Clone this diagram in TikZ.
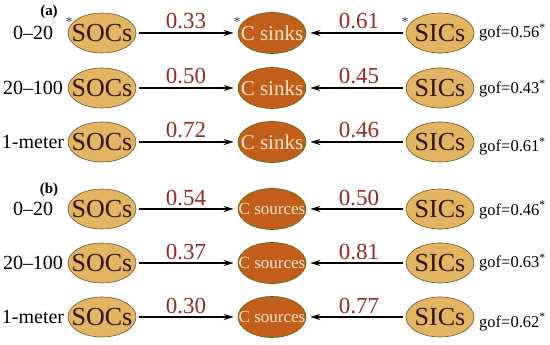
\documentclass[tikz,border=0pt]{standalone}
\usepackage{fontspec}
\setmainfont{Liberation Serif}
\usetikzlibrary{positioning,arrows.meta,shapes.geometric}
\definecolor{poolfill}{RGB}{226,181,98}
\definecolor{pooledge}{RGB}{112,82,36}
\definecolor{pooltext}{RGB}{48,20,10}
\definecolor{sinkfill}{RGB}{192,94,26}
\definecolor{sinkedge}{RGB}{96,96,24}
\definecolor{sinktext}{RGB}{252,230,204}
\definecolor{coefred}{RGB}{148,44,34}
% text of zero width, so that the ellipse keeps its minimum size
\newcommand{\ztext}[1]{\makebox[0pt]{#1}}
\tikzset{
  pool/.style={ellipse, draw=pooledge, fill=poolfill, text=pooltext, line width=0.6pt,
               minimum width=68pt, minimum height=40pt, inner sep=0pt,
               font=\fontsize{26}{26}\selectfont},
  cnode/.style={ellipse, draw=sinkedge, fill=sinkfill, text=sinktext, line width=0.6pt,
                minimum width=68pt, minimum height=41pt, inner sep=0pt},
  flow/.style={-{Stealth[length=10pt,width=6pt]}, line width=1.5pt,
               shorten <=3pt, shorten >=4pt},
  coef/.style={text=coefred, font=\fontsize{23}{23}\selectfont, anchor=base, inner sep=0pt},
  depth/.style={font=\fontsize{20}{20}\selectfont, inner sep=0pt},
  goftxt/.style={font=\fontsize{16.5}{16.5}\selectfont, anchor=base west, inner sep=0pt},
  sig/.style={font=\fontsize{14}{14}\selectfont, text=black!75, anchor=base, inner sep=0pt},
  panel/.style={font=\fontsize{15}{15}\selectfont\bfseries, inner sep=0pt},
}

\begin{document}
\begin{tikzpicture}[x=1pt, y=-1pt]
  \useasboundingbox (0,0) rectangle (550,345);

  \node[panel] (pa) at (49,12) {(a)};
  \node[panel] (pb) at (49,190) {(b)};

  % one row per depth: name/y/depth/SOC coef/SIC coef/gof/C text/font size/gof shift
  \foreach \i/\y/\dep/\a/\b/\g/\ct/\cs/\gy in {
      1/33/{0--20}/0.33/0.61/0.56/sinks/21/5,
      2/88/{20--100}/0.50/0.45/0.43/sinks/21/6,
      3/142/{1-meter}/0.72/0.46/0.61/sinks/21/10,
      4/209/{0--20}/0.54/0.50/0.46/sources/17/6,
      5/263/{20--100}/0.37/0.81/0.63/sources/17/5,
      6/317/{1-meter}/0.30/0.77/0.62/sources/17/10} {
    \node[depth] (d\i) at (33,\y) {\dep};
    \node[pool] (soc\i) at (102,\y) {\ztext{SOCs}};
    \node[cnode, font=\fontsize{\cs}{\cs}\selectfont] (c\i) at (272,\y) {\ztext{C \ct}};
    \node[pool] (sic\i) at (440,\y) {\ztext{SICs}};
    \draw[flow] (soc\i) -- (c\i);
    \draw[flow] (sic\i) -- (c\i);
    \node[coef] (ka\i) at (186,\y-4) {\a};
    \node[coef] (kb\i) at (359,\y-4) {\b};
    \node[goftxt] (g\i) at (479,\y+\gy) {gof=\g\textsuperscript{*}};
  }

  % significance marks on the first row
  \node[sig] (s1) at (69,27) {*};
  \node[sig] (s2) at (237,27) {*};
  \node[sig] (s3) at (405,27) {*};
\end{tikzpicture}
\end{document}
